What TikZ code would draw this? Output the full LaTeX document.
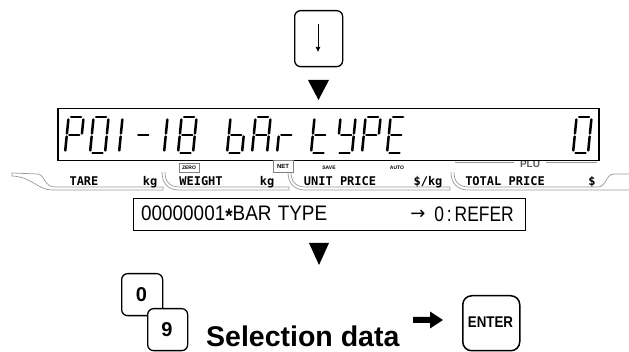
\documentclass[tikz,border=0pt]{standalone}
\usepackage{fontspec}
\setmainfont{Liberation Sans}
\newfontfamily\dejavu{DejaVu Sans}
\newfontfamily\dmono{DejaVu Sans Mono}
\usetikzlibrary{arrows.meta}
\makeatletter
\newcommand\sevseg[2]{%
 \begin{scope}[shift={(#1,153)},xslant=0.1]
 \in@{a}{#2}\ifin@\draw[segline](2.5,-36)--(12.5,-36);\fi
 \in@{b}{#2}\ifin@\draw[segline](15,-33.5)--(15,-19.5);\fi
 \in@{c}{#2}\ifin@\draw[segline](15,-16.5)--(15,-2.5);\fi
 \in@{d}{#2}\ifin@\draw[segline](2.5,0)--(12.5,0);\fi
 \in@{e}{#2}\ifin@\draw[segline](0,-2.5)--(0,-16.5);\fi
 \in@{f}{#2}\ifin@\draw[segline](0,-33.5)--(0,-19.5);\fi
 \in@{g}{#2}\ifin@\draw[segline](2.5,-18)--(12.5,-18);\fi
 \end{scope}}
\makeatother
\begin{document}
\begin{tikzpicture}[x=1pt,y=-1pt,
  key/.style={draw,line width=1.3pt,rounded corners=6pt,fill=white,inner sep=0pt,anchor=north west},
  segline/.style={line width=2.5pt,line cap=round},
  band/.style={draw=gray!80,line width=0.7pt},
  lbl/.style={font=\dmono\bfseries\fontsize{12}{12}\selectfont,inner sep=0pt},
  tiny/.style={font=\bfseries\fontsize{5}{5}\selectfont,inner sep=0pt},
  boxtxt/.style={font=\fontsize{21}{22}\selectfont,inner sep=0pt},
  keytxt/.style={font=\bfseries\fontsize{20}{20}\selectfont,inner sep=0pt},
  tri/.style={fill=black}]
\useasboundingbox (0,0) rectangle (629,352);
% top key
\node[key,minimum width=48pt,minimum height=56pt] (kdown) at (294,10) {};
\coordinate (ka) at (318,24);
\coordinate (kb) at (318,52);
\draw[line width=0.7pt,-{Latex[length=5pt,width=5pt]}] (ka) -- (kb);
% triangle 1
\fill[tri] (308,80) -- (329,80) -- (318.5,100) -- cycle;
% PLU label under LCD
\draw[band] (455,162.5) -- (514,162.5);
\draw[band] (546,162.5) -- (597,162.5);
\node[font=\bfseries\fontsize{10}{10}\selectfont,text=gray!70!black,inner sep=0pt] (plu) at (530,164.5) {PLU};
% LCD box
\node[draw,line width=1.5pt,fill=white,minimum width=541pt,minimum height=52pt,inner sep=0pt,anchor=north west] (lcd) at (57,108) {};
\sevseg{65}{abefg}
\sevseg{90}{abcdef}
\sevseg{104}{bc}
\sevseg{134}{g}
\sevseg{149}{bc}
\sevseg{178}{abcdefg}
\sevseg{227}{cdefg}
\sevseg{252}{abcefg}
\sevseg{277}{eg}
\sevseg{311}{defg}
\sevseg{337}{bcdfg}
\sevseg{362}{abefg}
\sevseg{387}{adefg}
\sevseg{573}{abcdef}
% label strip
\draw[band] (12,173) -- (38,174) .. controls (45,175) and (44,187) .. (55,187) -- (163,187) -- (163,190) -- (52,190) .. controls (38,190) and (32,177) .. (12,176) -- cycle;
\draw[band] (165,172) .. controls (165,182) and (170,187) .. (180,187) -- (289,187) -- (289,190) -- (179,190) .. controls (167,190) and (162,182) .. (162,172);
\draw[band] (291,172) .. controls (291,182) and (296,187) .. (306,187) -- (450,187) -- (450,190) -- (305,190) .. controls (293,190) and (288,182) .. (288,172);
\draw[band] (454,172) .. controls (454,182) and (459,187) .. (469,187) -- (598,187) .. controls (606,187) and (606,174) .. (614,174) -- (629,174);
\draw[band] (629,190) -- (468,190) .. controls (456,190) and (451,182) .. (451,172);
\node[lbl] (tare) at (84,181.5) {TARE};
\node[lbl] (kg1) at (150,182) {kg};
\node[lbl] (weight) at (201,181.5) {WEIGHT};
\node[lbl] (kg2) at (267,182) {kg};
\node[lbl] (unit) at (340,181.5) {UNIT PRICE};
\node[lbl] (skg) at (428,182) {\$/kg};
\node[lbl] (total) at (505,181.5) {TOTAL PRICE};
\node[lbl] (dol) at (592,182) {\$};
\node[draw=gray,line width=0.6pt,minimum width=20pt,minimum height=9pt,inner sep=0pt] (zero) at (189,168) {};
\node[tiny] (zerot) at (zero) {ZERO};
\node[draw=gray,line width=0.6pt,minimum width=20pt,minimum height=12pt,inner sep=0pt] (net) at (283,166.5) {};
\node[tiny,font=\bfseries\fontsize{6}{6}\selectfont] (nett) at (net) {NET};
\node[tiny] (save) at (329,168) {SAVE};
\node[tiny] (auto) at (397,168) {AUTO};
% bar type box
\node[draw,line width=1.3pt,minimum width=392pt,minimum height=32pt,inner sep=0pt,anchor=north west] (bt) at (133,198) {};
\node[boxtxt,anchor=west] (btl) at (141,214.5) {\scalebox{0.9}[1]{00000001\raisebox{-0.3ex}{\bfseries *}BAR\hspace{7pt}TYPE}};
\node[font=\dejavu\fontsize{18}{18}\selectfont,inner sep=0pt] (btarr) at (418,215) {→};
\node[boxtxt,anchor=east] (btr) at (514,214.5) {\scalebox{0.83}[1]{0\,:\,REFER}};
% triangle 2
\fill[tri] (309,243) -- (329,243) -- (319,265) -- cycle;
% keys 0 / 9
\node[key,minimum width=41pt,minimum height=42pt] (k0) at (121,273) {};
\node[keytxt] (k0t) at (141.5,295) {0};
\node[key,minimum width=40pt,minimum height=42pt] (k9) at (147,308) {};
\node[keytxt] (k9t) at (167,330) {9};
\node[anchor=base west,inner sep=0pt,font=\bfseries\fontsize{28.5}{30}\selectfont] (sel) at (206,347) {Selection data};
% heavy arrow
\fill (413,317) -- (430,317) -- (430,311.5) -- (443,320) -- (430,328.5) -- (430,323) -- (413,323) -- cycle;
% enter key
\node[key,rounded corners=9pt,line width=1.5pt,minimum width=57pt,minimum height=55pt] (kent) at (462,295) {};
\node[font=\bfseries\fontsize{15.5}{16}\selectfont,inner sep=0pt] (kentt) at (490.5,322.5) {\scalebox{0.86}[1]{ENTER}};
\end{tikzpicture}
\end{document}
